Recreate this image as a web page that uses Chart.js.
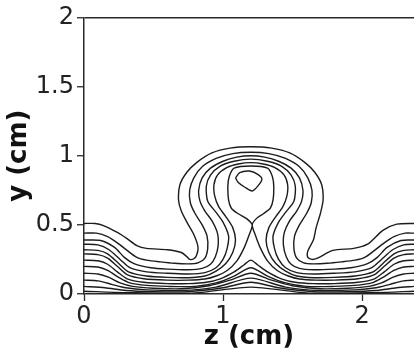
<!DOCTYPE html>
<html>
<head>
<meta charset="utf-8">
<script src="https://cdn.jsdelivr.net/npm/chart.js@4.4.1/dist/chart.umd.min.js"></script>
<style>
  html, body { margin: 0; padding: 0; background: #fff; }
  #wrap { width: 414px; height: 353px; }
</style>
</head>
<body>
<div id="wrap"><canvas id="contourChart"></canvas></div>
<script>
// contour lines, as [z (cm), y (cm)] pairs

// outer line, with the two tongues beside the dome
const contour1 = [[0,0.51],[0.08,0.51],[0.14,0.495],[0.24,0.445],[0.31,0.40],[0.38,0.35],[0.45,0.33],[0.6,0.32],[0.7,0.30],[0.74,0.27],[0.76,0.25],[0.79,0.255],[0.81,0.28],[0.82,0.34],[0.79,0.43],[0.74,0.52],[0.70,0.60],[0.68,0.68],[0.69,0.79],[0.74,0.88],[0.81,0.95],[0.92,1.02],[1.05,1.055],[1.2,1.065],[1.35,1.055],[1.48,1.02],[1.59,0.95],[1.66,0.88],[1.71,0.79],[1.72,0.68],[1.70,0.58],[1.67,0.48],[1.65,0.39],[1.61,0.31],[1.61,0.265],[1.64,0.25],[1.68,0.26],[1.79,0.315],[1.94,0.33],[2.04,0.36],[2.15,0.46],[2.25,0.505],[2.374,0.51]];

const contour2 = [[0,0.44],[0.09,0.44],[0.17,0.415],[0.24,0.37],[0.31,0.315],[0.38,0.265],[0.45,0.245],[0.55,0.232],[0.65,0.222],[0.75,0.218],[0.82,0.225],[0.87,0.26],[0.89,0.33],[0.885,0.42],[0.85,0.50],[0.80,0.58],[0.765,0.66],[0.76,0.75],[0.79,0.84],[0.85,0.92],[0.95,0.98],[1.07,1.015],[1.2,1.025],[1.33,1.015],[1.45,0.98],[1.55,0.92],[1.61,0.84],[1.64,0.75],[1.635,0.66],[1.60,0.58],[1.55,0.50],[1.515,0.42],[1.51,0.33],[1.53,0.26],[1.58,0.225],[1.65,0.218],[1.75,0.222],[1.85,0.232],[1.95,0.245],[2.02,0.265],[2.09,0.315],[2.16,0.37],[2.23,0.415],[2.31,0.44],[2.374,0.44]];

const contour3 = [[0,0.39],[0.12,0.387],[0.22,0.337],[0.29,0.265],[0.36,0.22],[0.48,0.19],[0.6,0.18],[0.75,0.175],[0.85,0.185],[0.91,0.215],[0.945,0.27],[0.965,0.35],[0.96,0.44],[0.92,0.53],[0.87,0.60],[0.835,0.67],[0.825,0.75],[0.85,0.84],[0.91,0.91],[1.0,0.96],[1.1,0.99],[1.2,1.0],[1.3,0.99],[1.4,0.96],[1.49,0.91],[1.55,0.84],[1.575,0.75],[1.565,0.67],[1.53,0.60],[1.48,0.53],[1.44,0.44],[1.435,0.35],[1.455,0.27],[1.49,0.215],[1.55,0.185],[1.65,0.175],[1.8,0.18],[1.92,0.19],[2.04,0.22],[2.11,0.265],[2.18,0.337],[2.28,0.387],[2.374,0.39]];

const contour4 = [[0,0.36],[0.1,0.355],[0.18,0.32],[0.26,0.25],[0.33,0.19],[0.45,0.16],[0.6,0.15],[0.75,0.145],[0.87,0.155],[0.95,0.19],[1.0,0.25],[1.03,0.33],[1.04,0.42],[1.0,0.52],[0.95,0.59],[0.89,0.67],[0.88,0.78],[0.91,0.86],[0.98,0.925],[1.08,0.96],[1.2,0.975],[1.32,0.96],[1.42,0.925],[1.49,0.86],[1.52,0.78],[1.51,0.67],[1.45,0.59],[1.40,0.52],[1.36,0.42],[1.37,0.33],[1.40,0.25],[1.45,0.19],[1.53,0.155],[1.65,0.145],[1.8,0.15],[1.95,0.16],[2.07,0.19],[2.14,0.25],[2.22,0.32],[2.3,0.355],[2.374,0.36]];

const contour5 = [[0,0.32],[0.1,0.315],[0.17,0.29],[0.25,0.22],[0.32,0.16],[0.45,0.13],[0.6,0.12],[0.75,0.118],[0.87,0.13],[0.95,0.165],[1.02,0.22],[1.07,0.30],[1.09,0.39],[1.07,0.48],[1.02,0.56],[0.97,0.63],[0.94,0.71],[0.935,0.79],[0.96,0.86],[1.03,0.915],[1.11,0.94],[1.2,0.95],[1.29,0.94],[1.37,0.915],[1.44,0.86],[1.465,0.79],[1.46,0.71],[1.43,0.63],[1.38,0.56],[1.33,0.48],[1.31,0.39],[1.33,0.30],[1.38,0.22],[1.45,0.165],[1.53,0.13],[1.65,0.118],[1.8,0.12],[1.95,0.13],[2.08,0.16],[2.15,0.22],[2.23,0.29],[2.3,0.315],[2.374,0.32]];

// saddle line: the goblet above, the inverted V below
const contour6 = [[0,0.29],[0.1,0.285],[0.17,0.26],[0.24,0.2],[0.31,0.14],[0.43,0.11],[0.6,0.1],[0.75,0.1],[0.87,0.108],[0.95,0.13],[1.03,0.17],[1.1,0.24],[1.15,0.33],[1.185,0.42],[1.21,0.5],[1.17,0.545],[1.11,0.58],[1.06,0.62],[1.04,0.68],[1.035,0.78],[1.045,0.85],[1.08,0.91],[1.2,0.925],[1.32,0.91],[1.355,0.85],[1.365,0.78],[1.36,0.68],[1.34,0.62],[1.29,0.58],[1.24,0.545],[1.21,0.5],[1.235,0.42],[1.27,0.33],[1.32,0.24],[1.39,0.17],[1.47,0.13],[1.55,0.108],[1.67,0.1],[1.8,0.1],[1.97,0.11],[2.09,0.14],[2.16,0.2],[2.23,0.26],[2.3,0.285],[2.374,0.29]];

// small closed loop inside the goblet
const innerLoop = [[1.09,0.84],[1.12,0.877],[1.19,0.889],[1.25,0.865],[1.28,0.83],[1.25,0.78],[1.21,0.745],[1.16,0.77],[1.11,0.806],[1.09,0.84]];

const contour7 = [[0,0.245],[0.1,0.24],[0.17,0.215],[0.24,0.16],[0.31,0.11],[0.43,0.085],[0.6,0.075],[0.75,0.075],[0.88,0.085],[0.98,0.11],[1.08,0.16],[1.15,0.21],[1.2,0.245],[1.25,0.21],[1.32,0.16],[1.42,0.11],[1.52,0.085],[1.65,0.075],[1.8,0.075],[1.97,0.085],[2.09,0.11],[2.16,0.16],[2.23,0.215],[2.3,0.24],[2.374,0.245]];

const contour8 = [[0,0.2],[0.1,0.195],[0.17,0.17],[0.25,0.12],[0.33,0.08],[0.45,0.062],[0.6,0.055],[0.8,0.055],[0.95,0.08],[1.08,0.13],[1.2,0.19],[1.32,0.13],[1.45,0.08],[1.6,0.055],[1.8,0.055],[1.95,0.062],[2.07,0.08],[2.15,0.12],[2.23,0.17],[2.3,0.195],[2.374,0.2]];

const contour9 = [[0,0.15],[0.1,0.145],[0.18,0.12],[0.26,0.08],[0.35,0.055],[0.5,0.042],[0.7,0.038],[0.9,0.06],[1.05,0.1],[1.2,0.15],[1.35,0.1],[1.5,0.06],[1.7,0.038],[1.9,0.042],[2.05,0.055],[2.14,0.08],[2.22,0.12],[2.3,0.145],[2.374,0.15]];

const contour10 = [[0,0.1],[0.1,0.095],[0.2,0.07],[0.3,0.045],[0.45,0.03],[0.7,0.025],[0.95,0.05],[1.2,0.115],[1.45,0.05],[1.7,0.025],[1.95,0.03],[2.1,0.045],[2.2,0.07],[2.3,0.095],[2.374,0.1]];

const contour11 = [[0,0.055],[0.15,0.045],[0.3,0.025],[0.5,0.017],[0.75,0.017],[1.0,0.045],[1.2,0.085],[1.4,0.045],[1.65,0.017],[1.9,0.017],[2.1,0.025],[2.25,0.045],[2.374,0.055]];

const contour12 = [[0,0.02],[0.3,0.01],[0.8,0.008],[1.2,0.05],[1.6,0.008],[2.1,0.01],[2.374,0.02]];

const allContours = [contour1, contour2, contour3, contour4, contour5, contour6, innerLoop,
                     contour7, contour8, contour9, contour10, contour11, contour12];

// axis settings
const zRange = [0, 2.374];   // the figure is cut off just past z = 2.37
const yRange = [0, 2];
const zStep = 1;
const yStep = 0.5;

const lineColor = "#1c1c1c";
const axisColor = "#2a2a2a";
const tickFont = { family: "DejaVu Sans", size: 24 };
const titleFont = { family: "DejaVu Sans", size: 26, weight: "bold" };

const datasets = allContours.map((pts) => ({
  data: pts.map((p) => ({ x: p[0], y: p[1] })),
  showLine: true,
  borderColor: lineColor,
  borderWidth: 1.4,
  pointRadius: 0,
  pointHoverRadius: 0,
  tension: 0.25,
  fill: false
}));

const ctx = document.getElementById("contourChart").getContext("2d");
new Chart(ctx, {
  type: "scatter",
  data: { datasets },
  options: {
    responsive: true,
    maintainAspectRatio: false,
    animation: false,
    layout: { padding: { top: 14, right: 0, left: 0, bottom: 0 } },
    plugins: {
      legend: { display: false },
      tooltip: { enabled: false }
    },
    scales: {
      x: {
        type: "linear",
        position: "bottom",
        min: zRange[0],
        max: zRange[1],
        afterFit: (scale) => { scale.height = 59; },
        ticks: {
          stepSize: zStep,
          includeBounds: false,
          maxRotation: 0,
          padding: 1,
          color: "#222",
          font: tickFont,
          callback: (v) => String(v)
        },
        grid: {
          drawOnChartArea: false,
          drawTicks: true,
          tickLength: 7,
          tickColor: axisColor,
          tickWidth: 1.3
        },
        border: { color: axisColor, width: 1.5 },
        title: {
          display: true,
          text: "z (cm)",
          color: "#111",
          font: titleFont,
          padding: { top: 0, bottom: 0 }
        }
      },
      y: {
        type: "linear",
        min: yRange[0],
        max: yRange[1],
        afterFit: (scale) => { scale.width = 84; },
        ticks: {
          stepSize: yStep,
          padding: 3,
          color: "#222",
          font: tickFont,
          callback: (v) => String(v)
        },
        grid: {
          drawOnChartArea: true,
          drawTicks: true,
          tickLength: 7,
          tickColor: axisColor,
          tickWidth: 1.3,
          lineWidth: 1.5,
          // only the top edge of the frame is drawn across the plot
          color: (c) => (c.tick && c.tick.value === yRange[1] ? axisColor : "rgba(0,0,0,0)")
        },
        border: { color: axisColor, width: 1.5 },
        title: {
          display: true,
          text: "y (cm)",
          color: "#111",
          font: titleFont,
          padding: { top: 4, bottom: 0 }
        }
      }
    }
  }
});
</script>
</body>
</html>
